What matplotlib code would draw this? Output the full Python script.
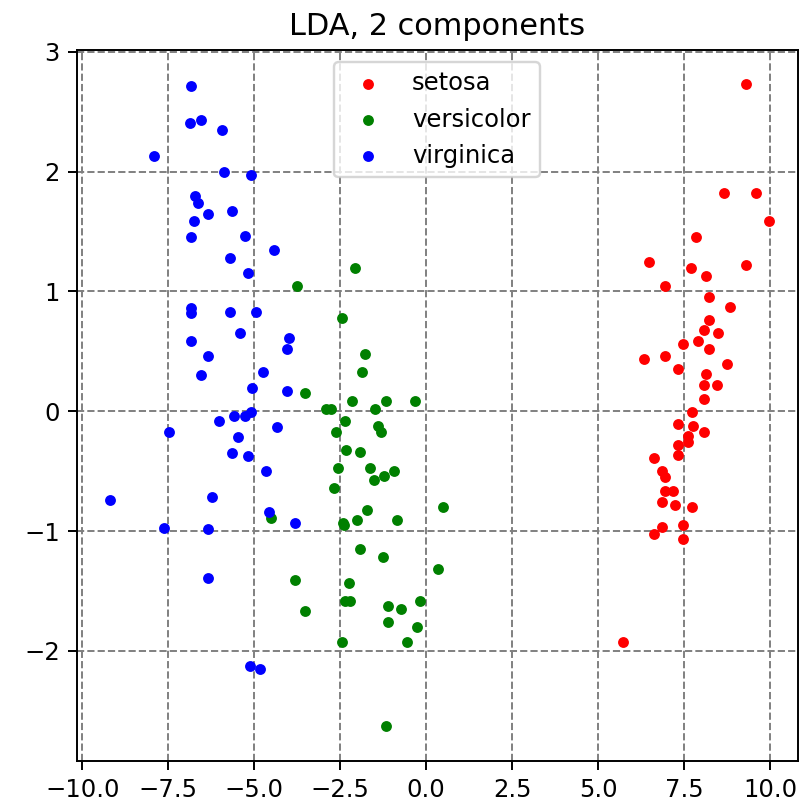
import numpy as np
import matplotlib
matplotlib.use("Agg")
import matplotlib.pyplot as plt

target_names = ["setosa", "versicolor", "virginica"]
colors = ["red", "green", "blue"]

# LDA projections
setosa_x = [9.29, 8.67, 9.59, 9.97, 7.84, 6.48, 7.71, 9.29, 8.15, 6.95,
            8.23, 8.85, 8.23, 8.08, 8.50, 7.91, 7.48, 8.23, 6.34, 6.95,
            7.32, 8.76, 8.15, 8.08, 8.45, 8.08, 7.74, 7.32, 7.77, 8.08,
            7.63, 7.63, 7.32, 7.32, 6.64, 6.85, 6.95, 6.95, 7.18, 6.85,
            7.25, 7.74, 7.47, 6.87, 6.63, 7.48, 5.73]
setosa_y = [2.735, 1.823, 1.823, 1.585, 1.457, 1.243, 1.196, 1.218, 1.129, 1.043,
            0.957, 0.871, 0.765, 0.677, 0.654, 0.588, 0.565, 0.523, 0.44, 0.4625,
            0.354, 0.396, 0.31, 0.223, 0.223, 0.10, -0.01, -0.107, -0.127, -0.173,
            -0.21, -0.26, -0.279, -0.368, -0.393, -0.501, -0.548, -0.668, -0.668, -0.76,
            -0.782, -0.801, -0.951, -0.965, -1.021, -1.0625, -1.93]

versicolor_x = [-2.07, -3.74, -2.45, -1.77, -1.85, -3.52, -2.92, -2.77, -2.16, -1.17,
                -0.33, -1.48, -2.36, -1.40, -1.32, -2.63, -2.32, -1.93, -2.55, -1.63,
                -0.93, -1.22, -1.51, -2.67, 0.50, -1.71, -4.50, -2.01, -0.86, -2.43,
                -2.40, -1.93, -1.25, 0.35, -3.82, -2.24, -2.35, -2.21, -3.52, -1.10,
                -0.72, -0.18, -1.10, -0.26, -2.45, -0.56, -1.17]
versicolor_y = [1.193, 1.046, 0.782, 0.479, 0.327, 0.152, 0.023, 0.023, 0.0875, 0.0875,
                0.0875, 0.023, -0.085, -0.127, -0.173, -0.173, -0.321, -0.343, -0.477, -0.477,
                -0.496, -0.538, -0.571, -0.64, -0.80, -0.826, -0.89, -0.91, -0.91, -0.932,
                -0.95, -1.148, -1.215, -1.321, -1.41, -1.432, -1.585, -1.585, -1.671, -1.626,
                -1.648, -1.585, -1.76, -1.80, -1.93, -1.93, -2.627]

virginica_x = [-6.84, -6.86, -6.54, -5.94, -7.91, -5.87, -5.10, -6.71, -6.63, -6.33,
               -5.64, -6.76, -6.84, -5.27, -4.42, -5.71, -5.17, -6.84, -6.84, -5.71,
               -4.95, -5.41, -3.98, -4.05, -6.84, -6.33, -6.54, -4.74, -5.05, -4.05,
               -6.02, -5.58, -5.26, -5.08, -4.34, -7.47, -5.47, -5.65, -5.18, -4.66,
               -9.19, -6.24, -4.58, -3.81, -7.61, -6.33, -6.33, -5.12, -4.82]
virginica_y = [2.715, 2.41, 2.435, 2.35, 2.13, 2.00, 1.97, 1.80, 1.74, 1.65,
               1.67, 1.585, 1.457, 1.46, 1.35, 1.28, 1.157, 0.86, 0.823, 0.826,
               0.826, 0.652, 0.615, 0.523, 0.587, 0.465, 0.304, 0.327, 0.198, 0.173,
               -0.082, -0.043, -0.043, -0.01, -0.129, -0.171, -0.215, -0.348, -0.371, -0.496,
               -0.738, -0.713, -0.843, -0.929, -0.977, -0.979, -1.388, -2.123, -2.148]

groups = [(setosa_x, setosa_y), (versicolor_x, versicolor_y), (virginica_x, virginica_y)]

fig = plt.figure(figsize=(805 / 175, 803 / 175), dpi=175)
ax = fig.add_axes([0.0957, 0.0523, 0.895, 0.886])

for (gx, gy), color, name in zip(groups, colors, target_names):
    ax.scatter(gx, gy, c=color, s=20, linewidths=0, label=name)

ax.set_xlim(-10.15, 10.8)
ax.set_ylim(-2.92, 3.02)
ax.set_xticks(np.arange(-10, 10.1, 2.5))
ax.grid(True, linestyle="--", color="gray")
ax.set_axisbelow(True)
ax.legend(loc="upper center", scatterpoints=1)
ax.set_title("LDA, 2 components", fontsize=12.5)

plt.savefig("out.png", dpi=175)
